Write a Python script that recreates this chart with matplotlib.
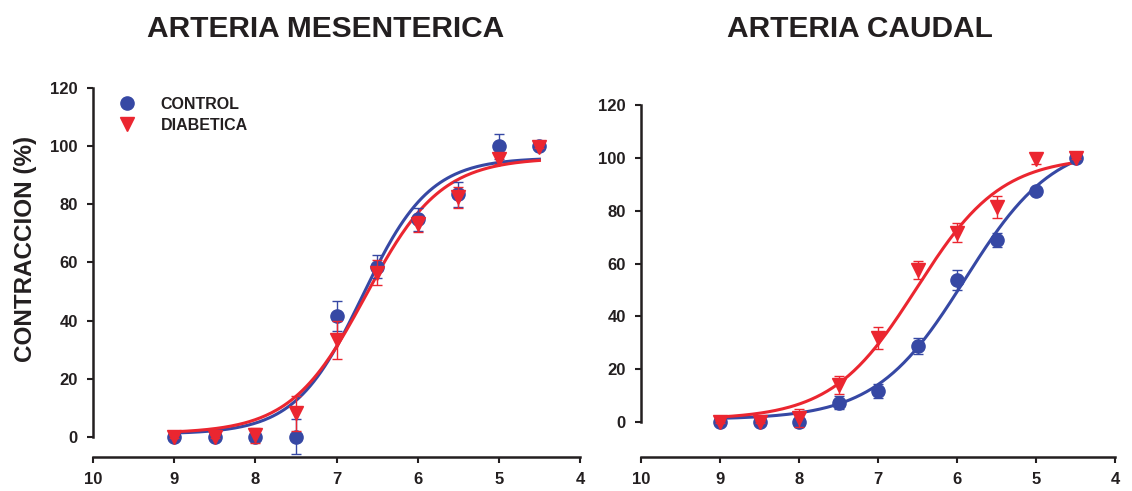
import numpy as np
import matplotlib
matplotlib.use('Agg')
import matplotlib.pyplot as plt
from matplotlib.lines import Line2D

plt.rcParams['font.family'] = ['Liberation Sans', 'DejaVu Sans']
plt.rcParams['font.weight'] = 'bold'

# -log [agonista]
dosis = [9, 8.5, 8, 7.5, 7, 6.5, 6, 5.5, 5, 4.5]

# arteria mesenterica
mes_control = [0, 0, 0, 0, 41.6, 58.6, 74.8, 83.4, 100, 100]
mes_control_err = [0.5, 0.5, 0.5, 6, 5.3, 3.8, 4.0, 4.4, 4.3, 0.5]
mes_diab = [0, 0, 0.5, 8.2, 33.4, 56.5, 73.2, 82.4, 95.5, 99.8]
mes_diab_err = [0.5, 0.5, 2.5, 6, 6.6, 4.3, 2.8, 3.6, 1.5, 0.5]

# arteria caudal
cau_control = [0, 0, 0, 7.4, 11.8, 28.7, 53.7, 69, 87.5, 100]
cau_control_err = [0.5, 0.5, 0.5, 2.3, 2.8, 3.0, 3.8, 2.6, 0.8, 0.5]
cau_diab = [0, 0, 1.5, 14.1, 31.7, 57.6, 71.7, 81.5, 99.7, 100]
cau_diab_err = [0.5, 0.5, 3.3, 3.5, 4.2, 3.5, 3.6, 4.1, 2.1, 0.5]

# ajuste sigmoideo: (bottom, top, logEC50, hill)
mes_control_fit = (1.0, 96.0, -6.68, 1.05)
mes_diab_fit = (1.2, 96.0, -6.64, 0.94)
cau_control_fit = (1.0, 107.0, -5.90, 0.77)
cau_diab_fit = (1.0, 100.5, -6.51, 0.81)

AZUL = '#3648A4'
ROJO = '#EB2630'
NEGRO = '#231F20'


def hill(x, fit):
    bottom, top, logec50, h = fit
    return bottom + (top - bottom) / (1 + 10 ** ((logec50 + x) * h))


def panel(ax, ctrl, ctrl_err, diab, diab_err, fit_c, fit_d, ybottom):
    xs = np.linspace(9, 4.5, 200)
    ax.plot(xs, hill(xs, fit_c), color=AZUL, lw=2.2, zorder=3)
    ax.plot(xs, hill(xs, fit_d), color=ROJO, lw=2.2, zorder=3)
    ax.errorbar(dosis, ctrl, yerr=ctrl_err, fmt='o', color=AZUL, ms=9.5,
                capsize=3.5, elinewidth=1, capthick=1, zorder=4)
    ax.errorbar(dosis, diab, yerr=diab_err, fmt='v', color=ROJO, ms=10,
                capsize=3.5, elinewidth=1, capthick=1, zorder=5)
    ax.set_xlim(10, 4)
    ax.set_ylim(ybottom, 120)
    ax.set_xticks([10, 9, 8, 7, 6, 5, 4])
    ax.set_yticks([0, 20, 40, 60, 80, 100, 120])
    ax.spines['top'].set_visible(False)
    ax.spines['right'].set_visible(False)
    ax.spines['left'].set_bounds(0, 120)
    for s in ('left', 'bottom'):
        ax.spines[s].set_linewidth(1.8)
        ax.spines[s].set_color(NEGRO)
    ax.tick_params(axis='both', width=1.5, length=4, color=NEGRO,
                   labelsize=12, labelcolor=NEGRO, pad=7)
    for lab in ax.get_xticklabels() + ax.get_yticklabels():
        lab.set_fontweight('bold')
    ax.patch.set_visible(False)


fig = plt.figure(figsize=(11.32, 4.91), dpi=100)
ax1 = fig.add_axes([93 / 1132, 1 - 457 / 491, (580 - 93) / 1132, (457 - 88) / 491])
ax2 = fig.add_axes([641 / 1132, 1 - 457 / 491, (1115 - 641) / 1132, (457 - 105) / 491])

panel(ax1, mes_control, mes_control_err, mes_diab, mes_diab_err,
      mes_control_fit, mes_diab_fit, -6.9)
panel(ax2, cau_control, cau_control_err, cau_diab, cau_diab_err,
      cau_control_fit, cau_diab_fit, -13.2)

fig.text(326 / 1132, 1 - 29 / 491, 'ARTERIA MESENTERICA', ha='center', va='center',
         fontsize=21.5, fontweight='bold', color=NEGRO)
fig.text(860 / 1132, 1 - 29 / 491, 'ARTERIA CAUDAL', ha='center', va='center',
         fontsize=21.5, fontweight='bold', color=NEGRO)
fig.text(26 / 1132, 1 - 249 / 491, 'CONTRACCION (%)', rotation=90, ha='center',
         va='center', fontsize=17.5, fontweight='bold', color=NEGRO)

handles = [Line2D([], [], ls='none', marker='o', color=AZUL, ms=9.5),
           Line2D([], [], ls='none', marker='v', color=ROJO, ms=10)]
leg = ax1.legend(handles, ['CONTROL', 'DIABETICA'], loc='upper left',
                 bbox_to_anchor=(119 / 1132, 1 - 97 / 491),
                 bbox_transform=fig.transFigure, frameon=False,
                 handlelength=1.0, handletextpad=1.6, labelspacing=0.35,
                 borderpad=0, borderaxespad=0,
                 prop={'size': 11.5, 'weight': 'bold'})
for t in leg.get_texts():
    t.set_color(NEGRO)

fig.savefig('out.png', dpi=100)
